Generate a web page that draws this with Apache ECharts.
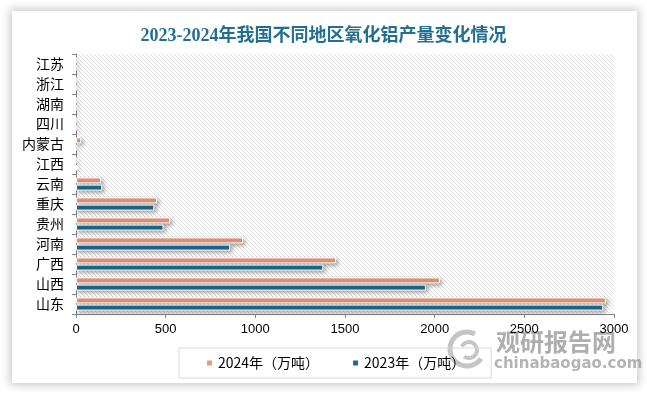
<!DOCTYPE html>
<html>
<head>
<meta charset="utf-8">
<script src="https://cdn.jsdelivr.net/npm/echarts@6/dist/echarts.min.js"></script>
<style>
html,body{margin:0;padding:0;background:#fff;width:647px;height:395px;overflow:hidden;}
#card{position:absolute;left:12px;top:11px;width:625px;height:372px;background:#fff;box-shadow:0 0 9px 2px rgba(0,0,0,0.22);}
#chart{position:absolute;left:0;top:0;width:647px;height:395px;}
</style>
</head>
<body>
<div id="card"></div>
<div id="chart"></div>
<script>
const categories = ['山东','山西','广西','河南','贵州','重庆','云南','江西','内蒙古','四川','湖南','浙江','江苏'];
const values2024 = [2955, 2029, 1450, 931, 525, 452, 140, 0, 29, 0, 0, 0, 0];
const values2023 = [2940, 1951, 1379, 859, 488, 437, 146, 7, 0, 0, 0, 0, 0];
const seriesNames = ['2024年（万吨）', '2023年（万吨）'];
const titleText = '2023-2024年我国不同地区氧化铝产量变化情况';

// hatch pattern
const pc = document.createElement('canvas');
pc.width = 4; pc.height = 4;
const g = pc.getContext('2d');
g.fillStyle = '#ffffff'; g.fillRect(0,0,4,4);
g.strokeStyle = '#dedede'; g.lineWidth = 1;
g.beginPath();
g.moveTo(-1,-1); g.lineTo(5,5);
g.moveTo(-1,3); g.lineTo(1,5);
g.moveTo(3,-1); g.lineTo(5,1);
g.stroke();

const chart = echarts.init(document.getElementById('chart'), null, {renderer:'canvas'});
const barStyle = (c) => ({
  color: c, borderColor: '#fff', borderWidth: 1,
  shadowBlur: 4, shadowColor: 'rgba(0,0,0,0.35)', shadowOffsetX: 2, shadowOffsetY: 2
});
chart.setOption({
  animation: false,
  backgroundColor: 'transparent',
  title: {
    text: titleText, left: 'center', top: 22,
    textStyle: {fontFamily: 'Liberation Serif, "Noto Sans CJK SC", serif', fontSize: 18, fontWeight: 'bold', color: '#246F8F'}
  },
  legend: {
    left: 179, top: 348, width: 308,
    padding: [8, 26, 8, 26],
    borderColor: '#d9d9d9', borderWidth: 1,
    itemWidth: 7, itemHeight: 7, itemGap: 32,
    icon: 'rect',
    textStyle: {fontSize: 14, color: '#000', fontFamily: '"Noto Sans CJK SC", sans-serif'},
    data: seriesNames
  },
  grid: {
    left: 76, right: 33, top: 54, bottom: 81,
    show: true, borderWidth: 0,
    backgroundColor: {image: pc, repeat: 'repeat'}
  },
  xAxis: {
    type: 'value', min: 0, max: 3000, interval: 500,
    axisLine: {show: true, lineStyle: {color: '#868686'}},
    axisTick: {show: true, length: 4, lineStyle: {color: '#868686'}},
    splitLine: {show: false},
    axisLabel: {color: '#000', fontSize: 13, margin: 9, fontFamily: '"Liberation Sans", sans-serif', formatter: (v) => String(v)}
  },
  yAxis: {
    type: 'category', data: categories,
    axisLine: {show: true, lineStyle: {color: '#868686'}},
    axisTick: {show: true, length: 4, lineStyle: {color: '#868686'}},
    axisLabel: {color: '#000', fontSize: 14, margin: 12, fontFamily: '"Noto Sans CJK SC", sans-serif'}
  },
  graphic: [
    {type: 'arc', shape: {cx: 467, cy: 349, r: 17, startAngle: 0.6, endAngle: 5.2}, style: {stroke: 'rgba(150,150,150,0.55)', lineWidth: 5, fill: null}, z: 0},
    {type: 'arc', shape: {cx: 469, cy: 350, r: 8, startAngle: 3.6, endAngle: 8.5}, style: {stroke: 'rgba(150,150,150,0.55)', lineWidth: 4, fill: null}, z: 0},
    {type: 'text', left: 496, top: 330, z: 0, style: {text: '观研报告网', fontSize: 24, fontWeight: 'bold', fill: 'rgba(120,120,120,0.6)', fontFamily: '"Noto Sans CJK SC", sans-serif'}},
    {type: 'text', left: 494, top: 357, z: 0, style: {text: 'chinabaogao.com', fontSize: 15, fontWeight: 'bold', fill: 'rgba(130,130,130,0.6)', fontFamily: '"DejaVu Sans", sans-serif'}}
  ],
  series: [
    {name: seriesNames[0], type: 'bar', data: values2024, barWidth: 6, barGap: '20%', itemStyle: barStyle('#E99B7C')},
    {name: seriesNames[1], type: 'bar', data: values2023, barWidth: 6, barGap: '20%', itemStyle: barStyle('#1E6B8F')}
  ]
});
</script>
</body>
</html>
